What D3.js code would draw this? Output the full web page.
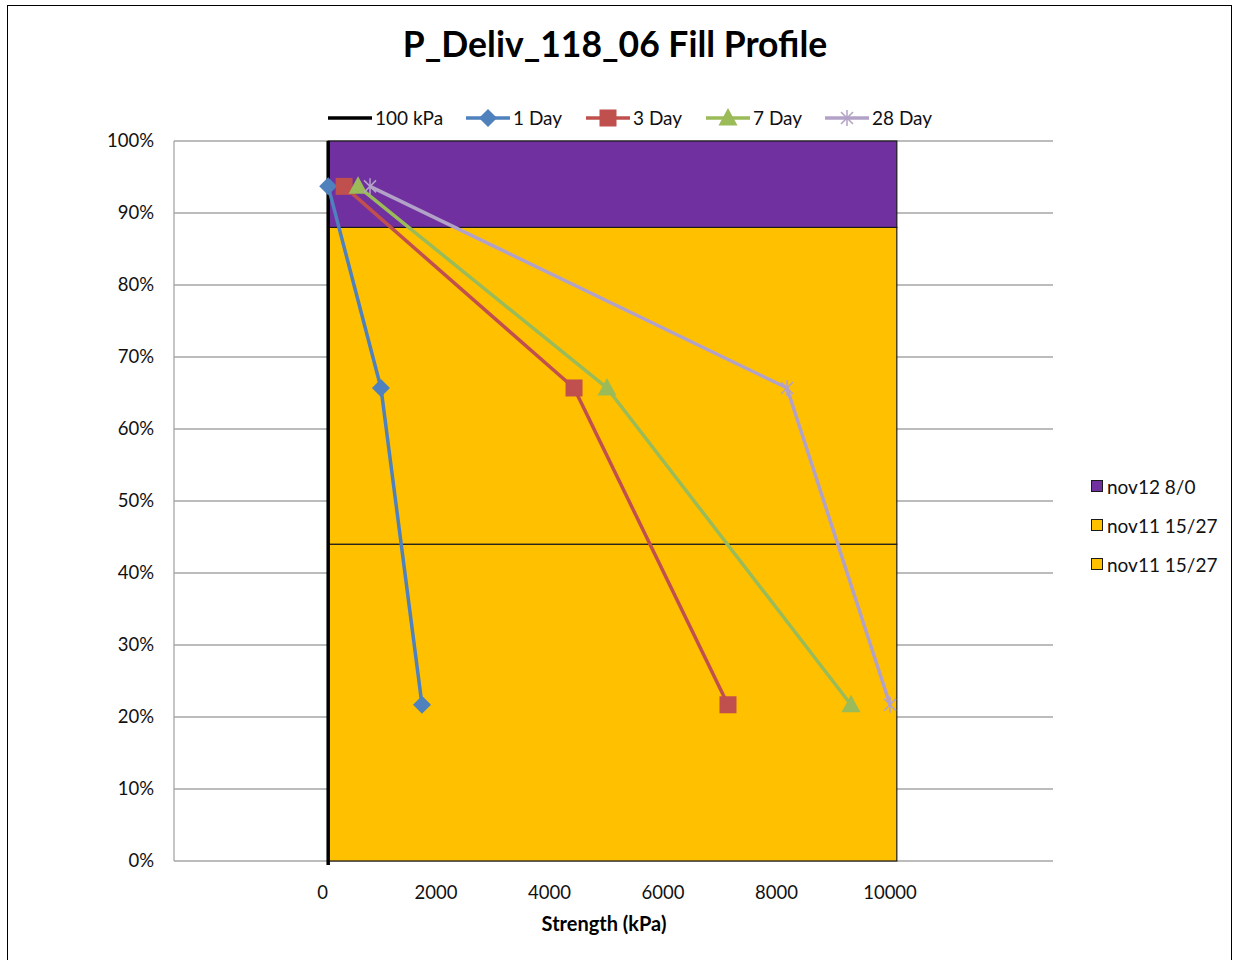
<!DOCTYPE html>
<html><head><meta charset="utf-8">
<script src="https://cdn.jsdelivr.net/npm/d3@7/dist/d3.min.js"></script>
<style>body{margin:0;background:#fff}svg{display:block}text{font-family:Lato,"Open Sans",sans-serif}</style>
</head><body>
<svg id="c" width="1233" height="960"></svg>
<script>
const title = "P_Deliv_118_06 Fill Profile";
const xTicks = [0, 2000, 4000, 6000, 8000, 10000];
const yTicks = [0, 0.1, 0.2, 0.3, 0.4, 0.5, 0.6, 0.7, 0.8, 0.9, 1.0];
const depths = [0.937, 0.657, 0.217];
const day1 = [100, 1030, 1753];
const day3 = [380, 4432, 7145];
const day7 = [626, 5013, 9313];
const day28 = [837, 8185, 10000];
const refLine = 100; // 100 kPa
const layerNames = ["nov11 15/27", "nov11 15/27", "nov12 8/0"];
const layerTops = [0.44, 0.88, 1.0];
const layerColors = ["#FFC000", "#FFC000", "#7030A0"];
const layerX = [100, 10120];

const svg = d3.select("#c");
const x = d3.scaleLinear().domain([-2617, 12872]).range([174, 1053]);
const y = d3.scaleLinear().domain([0, 1]).range([861, 141]);

svg.append("rect").attr("x", 7.5).attr("y", 5.5).attr("width", 1224).attr("height", 960).attr("fill", "none").attr("stroke", "#000").attr("stroke-width", 1);

svg.append("text").attr("x", 615).attr("y", 57).attr("text-anchor", "middle").attr("font-size", 35.5).attr("font-weight", "bold").text(title);

// gridlines
svg.append("g").selectAll("line").data(yTicks).join("line")
  .attr("x1", 174).attr("x2", 1053).attr("y1", d => y(d)).attr("y2", d => y(d))
  .attr("stroke", "#a6a6a6").attr("stroke-width", 1.3);
svg.append("line").attr("x1", 174).attr("x2", 174).attr("y1", 141).attr("y2", 861).attr("stroke", "#a6a6a6").attr("stroke-width", 1.3);

// layers
let prev = 0;
layerTops.forEach((t, i) => {
  svg.append("rect").attr("x", x(layerX[0])).attr("width", x(layerX[1]) - x(layerX[0]))
    .attr("y", y(t)).attr("height", y(prev) - y(t))
    .attr("fill", layerColors[i]).attr("stroke", "#1a1a1a").attr("stroke-width", 1.2);
  prev = t;
});

// ref line
svg.append("line").attr("x1", x(refLine)).attr("x2", x(refLine)).attr("y1", y(1)).attr("y2", y(0) + 4)
  .attr("stroke", "#000").attr("stroke-width", 3.5);

// y labels
svg.append("g").selectAll("text").data(yTicks).join("text")
  .attr("x", 154).attr("y", d => y(d) + 6).attr("text-anchor", "end").attr("font-size", 18.5).attr("fill", "#111")
  .text(d => Math.round(d * 100) + "%");
// x labels
svg.append("g").selectAll("text").data(xTicks).join("text")
  .attr("x", d => x(d)).attr("y", 899).attr("text-anchor", "middle").attr("font-size", 18.5).attr("fill", "#111")
  .text(d => d);
svg.append("text").attr("x", 604).attr("y", 931).attr("text-anchor", "middle").attr("font-size", 20).attr("font-weight", "bold").text("Strength (kPa)");

const series = [
  {name: "1 Day", vals: day1, color: "#4F81BD", marker: "diamond"},
  {name: "3 Day", vals: day3, color: "#C0504D", marker: "square"},
  {name: "7 Day", vals: day7, color: "#9BBB59", marker: "triangle"},
  {name: "28 Day", vals: day28, color: "#B3A2C7", marker: "star"}
];
function marker(g, type, cx, cy, color) {
  if (type === "diamond") {
    g.append("path").attr("d", `M${cx},${cy-9}L${cx+9},${cy}L${cx},${cy+9}L${cx-9},${cy}Z`).attr("fill", color);
  } else if (type === "square") {
    g.append("rect").attr("x", cx - 8.5).attr("y", cy - 8.5).attr("width", 17).attr("height", 17).attr("fill", color);
  } else if (type === "triangle") {
    g.append("path").attr("d", `M${cx},${cy-10}L${cx+9.5},${cy+7.5}L${cx-9.5},${cy+7.5}Z`).attr("fill", color);
  } else {
    const p = d3.path();
    p.moveTo(cx - 6, cy - 6); p.lineTo(cx + 6, cy + 6);
    p.moveTo(cx - 6, cy + 6); p.lineTo(cx + 6, cy - 6);
    p.moveTo(cx, cy - 8); p.lineTo(cx, cy + 8);
    g.append("path").attr("d", p.toString()).attr("stroke", color).attr("stroke-width", 1.5).attr("fill", "none");
  }
}
const line = d3.line().x(d => x(d[0])).y(d => y(d[1]));
series.forEach(s => {
  const pts = s.vals.map((v, i) => [v, depths[i]]);
  svg.append("path").attr("d", line(pts)).attr("fill", "none").attr("stroke", s.color).attr("stroke-width", 3.5).attr("stroke-linejoin", "round");
  const g = svg.append("g");
  pts.forEach(p => marker(g, s.marker, x(p[0]), y(p[1]), s.color));
});

// top legend
const legItems = [{name: "100 kPa", color: "#000", marker: null, x0: 328}].concat(
  series.map((s, i) => ({name: s.name, color: s.color, marker: s.marker, x0: [466, 586, 706, 825][i]})));
legItems.forEach(it => {
  const g = svg.append("g");
  g.append("line").attr("x1", it.x0).attr("x2", it.x0 + 44).attr("y1", 118).attr("y2", 118).attr("stroke", it.color).attr("stroke-width", 3.5);
  if (it.marker) marker(g, it.marker, it.x0 + 22, 118, it.color);
  g.append("text").attr("x", it.x0 + 47).attr("y", 124.5).attr("font-size", 19).attr("fill", "#111").text(it.name);
});

// right legend (reverse order)
const rl = layerNames.map((n, i) => ({n, c: layerColors[i]})).reverse();
rl.forEach((d, i) => {
  const yy = 487 + i * 39;
  svg.append("rect").attr("x", 1091.5).attr("y", yy - 6.5).attr("width", 11).attr("height", 11).attr("fill", d.c).attr("stroke", "#1a1a1a").attr("stroke-width", 1);
  svg.append("text").attr("x", 1107).attr("y", yy + 6.5).attr("font-size", 19).attr("fill", "#111").text(d.n);
});
</script>
</body></html>
